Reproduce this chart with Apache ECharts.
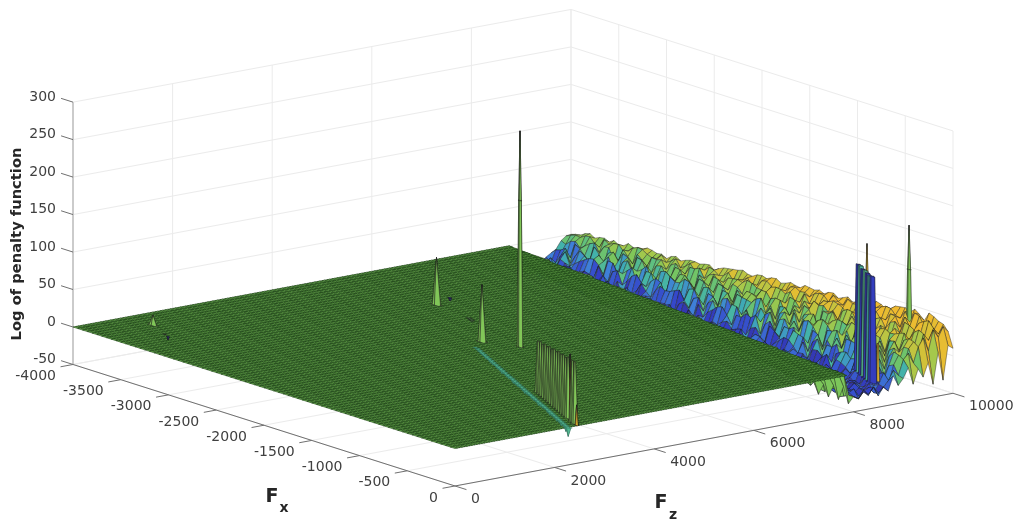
<!DOCTYPE html>
<html><head><meta charset="utf-8">
<style>html,body{margin:0;padding:0;background:#fff}#c{width:1020px;height:525px}</style>
<script src="https://cdn.jsdelivr.net/npm/echarts@6/dist/echarts.min.js"></script>
</head><body><div id="c"></div>
<script>
// ---- data ----
const fxTicks = [-4000,-3500,-3000,-2500,-2000,-1500,-1000,-500,0];
const fzTicks = [0,2000,4000,6000,8000,10000];
const zTicks  = [-50,0,50,100,150,200,250,300];
const fxStep = 50, fzStep = 50, roughFxStep = 50, roughFzStep = 100;
const flatEdgeFz = [8755, 7870];        // end of the flat sheet at Fx=-4000 and Fx=0
// rough region: one row per Fx (-4000 .. 0), each row ends at Fz=10000
const roughRows = [
[-22,-30,-26,-34,-28,-22,-30,-24,-20,-16,-6,-1,0],
[-26,-31,-24,-29,-33,-25,-27,-30,-14,-20,-9,2,2],
[-28,-24,-32,-27,-33,-26,-20,-28,-12,-24,-3,4,3],
[-31,-23,-29,-34,-24,-28,-33,-17,-8,-22,-1,3,7],
[-30,-26,-22,-35,-25,-30,-18,-9,-26,-2,-8,7,9],
[-27,-35,-25,-30,-28,-33,-21,-26,-15,-6,-3,8,5],
[-25,-33,-28,-24,-36,-22,-28,-21,-5,-13,2,1,8],
[-29,-24,-33,-27,-35,-20,-31,-16,-10,-19,5,-2,9],
[-32,-27,-30,-26,-21,-34,-27,-12,-16,3,-6,10,6],
[-30,-28,-34,-23,-27,-31,-24,-8,-20,-5,4,6,10],
[-28,-34,-25,-30,-24,-35,-20,-30,-7,-3,-17,5,9,6],
[-25,-33,-27,-36,-24,-30,-22,-29,-13,-9,1,-11,10,7],
[-24,-30,-36,-23,-29,-26,-33,-11,-24,-1,4,-9,3,12],
[-32,-26,-34,-29,-21,-33,-27,-24,-3,-16,-6,8,5,9],
[-33,-26,-29,-35,-22,-30,-18,-28,-4,-20,6,1,11,7],
[-28,-35,-23,-31,-36,-25,-29,-12,-18,-2,3,-7,14,11],
[-27,-31,-24,-28,-34,-20,-31,-9,-14,2,-12,8,13,14],
[-34,-27,-30,-25,-28,-37,-20,-26,-8,-12,7,2,9,13],
[-30,-24,-35,-26,-30,-23,-36,-19,-2,-8,5,-4,6,11],
[-29,-33,-26,-36,-24,-31,-28,-10,-22,-4,-9,10,7,12],
[-26,-33,-28,-22,-36,-27,-21,-30,-6,-22,3,-7,9,14,8],
[-35,-24,-31,-28,-33,-23,-34,-25,-15,-1,-13,4,11,6,13],
[-31,-25,-30,-34,-24,-29,-35,-13,-18,-1,-10,6,0,10,15],
[-27,-34,-29,-23,-30,-36,-26,-21,-9,-19,2,-4,8,15,11],
[-28,-36,-23,-30,-26,-33,-24,-27,-3,-15,4,-6,12,5,14],
[-32,-25,-35,-28,-34,-24,-29,-16,-6,-25,-2,10,4,9,16],
[-34,-27,-32,-25,-37,-22,-30,-8,-23,2,-5,9,2,15,16],
[-30,-36,-26,-31,-23,-33,-27,-12,-20,-3,6,-8,13,7,15],
[-29,-25,-35,-28,-31,-24,-36,-26,-11,-17,-2,7,-3,13,8,17],
[-36,-28,-32,-24,-35,-29,-25,-31,-8,-21,5,-1,-11,16,12,18],
[-33,-30,-24,-36,-27,-32,-22,-33,-5,-20,3,-8,10,4,18,13],
[-27,-34,-25,-30,-36,-23,-33,-20,-17,-3,-9,8,3,11,16,17],
[-26,-35,-29,-23,-33,-28,-37,-16,-25,-1,-12,6,-1,14,11,20],
[-33,-29,-36,-26,-31,-27,-35,-24,-10,-14,2,-6,14,6,13,21],
[-31,-27,-34,-30,-25,-36,-21,-31,-7,-18,4,-4,12,7,19,22],
[-28,-32,-24,-35,-30,-22,-34,-13,-23,-1,-7,10,5,15,10,23],
[-35,-28,-24,-33,-29,-26,-38,-24,-28,-10,-3,-16,8,2,16,13,25],
[-30,-36,-27,-25,-34,-31,-24,-33,-19,-5,-14,6,-3,12,17,15,22],
[-27,-33,-30,-25,-36,-23,-31,-34,-14,-22,-2,5,-9,10,15,20,21],
[-33,-26,-34,-30,-23,-35,-28,-26,-8,-27,1,-10,9,3,20,12,25],
[-30,-36,-26,-32,-28,-35,-24,-29,-6,-26,-11,7,1,-5,18,14,26],
[-25,-31,-37,-28,-34,-26,-32,-23,-15,-2,-18,5,12,0,14,22,24],
[-34,-25,-31,-37,-27,-30,-33,-20,-26,-3,-15,4,11,6,13,24,27],
[-32,-35,-27,-24,-33,-29,-36,-28,-11,-21,-6,2,8,16,9,19,28],
[-28,-32,-35,-24,-30,-36,-26,-31,-12,-4,-21,9,-2,16,21,12,24],
[-35,-26,-30,-33,-25,-34,-23,-30,-5,-24,-9,12,-1,7,23,17,26],
[-36,-29,-26,-33,-31,-25,-37,-21,-30,-8,-17,2,-6,12,7,22,19,29],
[-28,-33,-35,-27,-24,-31,-29,-36,-19,-3,-13,-7,6,15,2,18,26,27],
[-31,-35,-28,-24,-34,-30,-27,-32,-16,-26,-1,6,-10,14,9,23,28,26],
[-34,-25,-30,-36,-28,-33,-26,-22,-27,-11,4,-16,9,-1,19,11,24,31],
[-26,-33,-37,-30,-25,-35,-29,-23,-31,-5,-19,3,10,-3,17,13,25,30],
[-30,-36,-29,-24,-32,-27,-35,-31,-8,-18,-2,7,1,13,8,26,21,29],
[-34,-28,-31,-36,-27,-32,-24,-34,-13,-22,1,-8,11,5,20,15,27,31],
[-27,-32,-34,-28,-36,-25,-30,-26,-20,-6,-12,10,-4,17,12,18,30,28],
[-30,-37,-25,-33,-29,-35,-26,-31,-20,-27,-7,2,-12,8,14,24,18,29,32],
[-34,-28,-36,-30,-24,-33,-29,-35,-14,-24,-3,-10,5,11,-2,20,25,22,33],
[-35,-27,-32,-28,-36,-24,-33,-29,-15,-4,-23,6,0,13,-6,22,26,33,28],
[-31,-35,-27,-25,-32,-37,-23,-28,-22,-7,-16,9,2,-5,18,15,29,27,31],
[-28,-33,-36,-26,-31,-37,-27,-22,-30,-9,-18,3,10,-2,16,19,27,24,34],
[-36,-26,-33,-29,-35,-28,-31,-25,-12,-26,1,-8,13,6,21,9,24,34,29],
[-33,-29,-25,-35,-30,-26,-38,-24,-32,-11,-2,-20,7,12,4,23,15,30,32],
[-29,-34,-31,-37,-26,-30,-24,-36,-18,-5,-21,4,-3,16,11,27,19,31,35],
[-37,-31,-34,-27,-33,-29,-25,-35,-17,-28,-6,5,-9,15,9,26,21,35,30],
[-33,-27,-36,-25,-31,-34,-28,-30,-23,-9,-15,8,0,12,23,13,30,26,37],
[-29,-36,-30,-24,-35,-32,-27,-36,-21,-30,-10,1,-14,8,18,11,25,29,36,40],
[-35,-30,-26,-33,-28,-36,-24,-32,-15,-27,-4,-11,6,-7,16,21,10,32,35,38],
[-34,-27,-33,-37,-28,-31,-35,-25,-33,-13,-24,4,-5,14,6,24,17,33,38,34],
[-28,-37,-31,-27,-34,-25,-33,-29,-18,-9,-22,3,11,1,20,13,27,24,41,36],
[-31,-35,-26,-30,-36,-24,-29,-34,-20,-7,-27,2,10,-3,19,16,30,26,40,42],
[-33,-29,-35,-24,-30,-37,-26,-31,-24,-14,0,-16,7,17,-1,23,18,36,33,43],
[-36,-28,-32,-35,-27,-33,-30,-23,-31,-12,-3,-18,9,15,22,8,28,35,31,44],
[-27,-36,-28,-34,-32,-26,-35,-27,-12,-29,-6,5,-9,13,24,10,31,22,42,40],
[-30,-37,-27,-34,-31,-25,-36,-29,-21,-33,-8,-19,3,12,-4,20,25,18,38,30,46],
[-34,-31,-36,-28,-25,-33,-30,-35,-19,-11,-25,-2,9,-6,15,21,12,34,27,44,41],
[-35,-29,-33,-26,-38,-30,-28,-34,-17,-28,-5,6,-11,16,10,24,14,32,22,42,35],
[-29,-35,-26,-32,-37,-27,-34,-24,-28,-13,-2,-17,7,18,4,26,16,28,36,30,47],
[-27,-34,-36,-31,-25,-35,-32,-22,-30,-10,-23,2,12,5,20,9,28,18,40,24,44],
[-36,-28,-31,-35,-29,-33,-26,-30,-15,-24,-7,10,-4,14,24,11,33,19,43,29,40],
[-33,-30,-26,-37,-32,-28,-36,-26,-12,-27,-4,8,-8,14,22,6,30,20,35,26,38],
[-30,-33,-37,-27,-34,-25,-35,-28,-20,-8,-16,4,11,-3,17,28,9,36,25,38,30],
[-18,-6,-24,-10,-30,-14,-38,-30,-34,-26,-32,-22,-35,-24,-31,-12,-26,-18,-5,-28,-9,-21,-3,-33,8,-30,15,10]
];
// isolated peaks: [Fx, Fz, height, base height, colour height, half width, half width at the top]
const farPeaks = [
[-640,9500,130,22,26,30,0],[-408,9900,100,8,1,30,16],[-408,9900,159,100,1,16,0],
[-300,8680,126,-15,-33,45,25],[-250,8630,127,-15,-14,45,25],[-200,8580,125,-15,-34,45,25],[-150,8530,126,-15,-12,45,25],
[-100,8480,125,-15,-36,45,25],[-50,8430,124,-15,-16,45,25],[0,8380,126,-15,-34,45,25],[0,8490,35,-15,26,16,8]
];
const nearPeaks = [
[-3732,1093,13,0,1,38,0],[-3431,817,-4,0,-40,12,0],[-3500,880,-1,0,-2,14,0],
[-3145,5930,-4,0,-40,16,0],[-3230,5800,-2,0,-2,20,0],[-2604,5329,-2,0,-3,20,0],[-2650,5370,-2,0,-3,20,0],
[-3058,5493,63,0,1,42,0],[-2114,4596,76,0,1,40,0],
[-1863,4878,195,0,1,28,14],[-1863,4878,288,195,1,14,0],
[-850,3300,68,0,1,32,8],[-800,3250,70,0,1,32,8],[-750,3200,69,0,1,32,8],[-700,3150,72,0,1,32,8],[-650,3100,71,0,1,32,8],
[-600,3050,74,0,1,32,8],[-550,3000,73,0,1,32,8],[-500,2950,76,0,1,32,8],[-450,2900,75,0,1,32,8],[-400,2850,78,0,1,32,8],
[-350,2800,77,0,1,32,8],[-300,2750,79,0,1,32,8],[-250,2700,78,0,1,32,8],[-200,2650,81,0,1,32,8],[-150,2600,88,0,28,10,0],
[-100,2550,82,0,1,32,8],[-50,2500,83,0,1,32,8],[-15,2470,27,0,28,16,0]
];
// shallow diagonal groove, Fx from -2000 to 0 in steps of 50
const grooveZ = [-1,-2,-3,-3,-4,-3,-4,-4,-3,-4,-4,-5,-3,-4,-4,-3,-5,-4,-4,-3,-4,-5,-4,-3,-4,-4,-3,-5,-4,-4,-3,-4,-5,-4,-4,-5,-4,-6,-5,-8,-12];
const colorStops = [[-45,'#352a87'],[-32,'#3340c8'],[-24,'#3f7fd8'],[-17,'#3fb0b0'],[-9,'#5fbf80'],[0,'#7cc65a'],[10,'#a9c84a'],[18,'#d8c036'],[28,'#eebb30'],[60,'#f2b82c']];

// ---- view: fixed orthographic camera of the 3D box ----
function P(fx,fz,z){
  const a=(fx+4000)/4000, b=fz/10000;
  return [73+382*a+498*b, 327+121.5*a-92.7*b-0.7495*z];
}
function colorOf(z){
  if(z<=colorStops[0][0]) return colorStops[0][1];
  for(let i=1;i<colorStops.length;i++){
    if(z<=colorStops[i][0]){
      const t=(z-colorStops[i-1][0])/(colorStops[i][0]-colorStops[i-1][0]);
      return echarts.color.lerp(t,[colorStops[i-1][1],colorStops[i][1]]);
    }
  }
  return colorStops[colorStops.length-1][1];
}
function depth(c){let s=0;for(const v of c.v){const p=P(v[0],v[1],0);s+=p[1];}return s/c.v.length;}

// rough cells
function roughAt(i,fz){
  const row=roughRows[i]; if(!row) return 0;
  const k=row.length-1-Math.round((10000-fz)/roughFzStep);
  return k>=0?row[k]:0;
}
const backCells=[];
for(let i=0;i<roughRows.length-1;i++){
  const fx0=-4000+i*roughFxStep, fx1=fx0+roughFxStep;
  const n=Math.max(roughRows[i].length,roughRows[i+1].length);
  for(let k=0;k<n;k++){
    const fz0=10000-(k+1)*roughFzStep, fz1=fz0+roughFzStep;
    const z00=roughAt(i,fz0),z01=roughAt(i,fz1),z10=roughAt(i+1,fz0),z11=roughAt(i+1,fz1);
    backCells.push({v:[[fx0,fz0,z00],[fx1,fz0,z10],[fx1,fz1,z11],[fx0,fz1,z01]],c:z00});
  }
}
function addPeak(list,p){
  const fx=p[0],fz=p[1],h=p[2],b=p[3],col=p[4],d=p[5],t=p[6];
  [[-1,1],[-1,-1],[1,1],[1,-1]].forEach(s=>{
    const v=t?[[fx+s[0]*t,fz,h],[fx,fz+s[1]*t,h],[fx,fz+s[1]*d,b],[fx+s[0]*d,fz+s[1]*d,b],[fx+s[0]*d,fz,b]]
             :[[fx,fz,h],[fx,fz+s[1]*d,b],[fx+s[0]*d,fz+s[1]*d,b],[fx+s[0]*d,fz,b]];
    list.push({v:v,c:col});
  });
}
farPeaks.forEach(p=>addPeak(backCells,p));
backCells.sort((a,b)=>depth(a)-depth(b));

// flat sheet
const flatCells=[];
function edgeFz(fx){return flatEdgeFz[0]+(flatEdgeFz[1]-flatEdgeFz[0])*(fx+4000)/4000;}
for(let fx=-4000;fx<0;fx+=fxStep){
  for(let fz=0;fz<9000;fz+=fzStep){
    const e0=edgeFz(fx),e1=edgeFz(fx+fxStep);
    if(fz>=e0) continue;
    flatCells.push({v:[[fx,fz,0],[fx+fxStep,Math.min(fz,e1),0],[fx+fxStep,Math.min(fz+fzStep,e1),0],[fx,Math.min(fz+fzStep,e0),0]],c:0});
  }
}
flatCells.sort((a,b)=>depth(a)-depth(b));

// peaks standing on the sheet
const frontCells=[];
nearPeaks.forEach(p=>addPeak(frontCells,p));
frontCells.sort((a,b)=>depth(a)-depth(b));
const grooveCells=[];
grooveZ.forEach((z,i)=>{const fx=-2000+i*50; addPeak(grooveCells,[fx,2273-fx,z,0,-12,28,0]);});
grooveCells.sort((a,b)=>depth(a)-depth(b));

// ---- box lines ----
const gridSegs=[];
const zMin=-50,zMax=300;
fzTicks.forEach(t=>{ gridSegs.push([[-4000,t,zMin],[-4000,t,zMax]]); gridSegs.push([[-4000,t,zMin],[0,t,zMin]]); });
fxTicks.forEach(t=>{ gridSegs.push([[t,10000,zMin],[t,10000,zMax]]); gridSegs.push([[t,0,zMin],[t,10000,zMin]]); });
zTicks.forEach(t=>{ gridSegs.push([[-4000,0,t],[-4000,10000,t]]); gridSegs.push([[-4000,10000,t],[0,10000,t]]); });
const axisSegs=[
 [[-4000,0,zMin],[0,0,zMin]],[[0,0,zMin],[0,10000,zMin]]
];
fxTicks.forEach(t=>axisSegs.push([[t,0,zMin],[t,-250,zMin]]));
fzTicks.forEach(t=>axisSegs.push([[0,t,zMin],[120,t,zMin]]));
zTicks.forEach(t=>axisSegs.push([[-4000,0,t],[-4125,0,t]]));

const labels=[];
zTicks.forEach(t=>{const p=P(-4000,0,t);labels.push({t:String(t),x:p[0]-17,y:p[1]-5,a:'right'});});
fxTicks.forEach(t=>{const p=P(t,0,zMin);labels.push({t:String(t),x:p[0]-17,y:p[1]+12,a:'right'});});
fzTicks.forEach(t=>{const p=P(0,t,zMin);labels.push({t:String(t),x:p[0]+16,y:p[1]+13.5,a:'left'});});

function polySeries(cells,lw,stroke){
  return {type:'custom',coordinateSystem:'cartesian2d',silent:true,animation:false,progressive:0,clip:false,
    data:cells.map((c,i)=>[i,0]),
    renderItem:function(params,api){
      const c=cells[params.dataIndex];
      return {type:'polygon',silent:true,
        shape:{points:c.v.map(v=>{const p=P(v[0],v[1],v[2]);return api.coord(p);})},
        style:{fill:colorOf(c.c),stroke:stroke,lineWidth:lw}};
    }};
}
function lineSeries(segs,color,lw){
  return {type:'custom',coordinateSystem:'cartesian2d',silent:true,animation:false,progressive:0,clip:false,
    data:segs.map((s,i)=>[i,0]),
    renderItem:function(params,api){
      const s=segs[params.dataIndex],a=api.coord(P.apply(null,s[0])),b=api.coord(P.apply(null,s[1]));
      return {type:'line',silent:true,shape:{x1:a[0],y1:a[1],x2:b[0],y2:b[1]},style:{stroke:color,lineWidth:lw}};
    }};
}
const FONT='"DejaVu Sans"';
const option={
  animation:false,backgroundColor:'#fff',
  grid:{left:0,right:0,top:0,bottom:0},
  xAxis:{type:'value',min:0,max:1020,show:false},
  yAxis:{type:'value',min:0,max:525,inverse:true,show:false},
  series:[
    lineSeries(gridSegs,'#ebebeb',1),
    lineSeries([[[-4000,0,zMin],[-4000,0,zMax]]],'#bcbcbc',1.5),
    lineSeries(axisSegs,'#707070',1),
    polySeries(backCells,0.42,'#1c1c1c'),
    polySeries(flatCells,0.6,'#173a12'),
    polySeries(grooveCells,0.3,'#2a5a4a'),
    polySeries(frontCells,0.5,'#1c1c1c'),
    {type:'custom',coordinateSystem:'cartesian2d',silent:true,animation:false,clip:false,
     data:labels.map((l,i)=>[i,0]),
     renderItem:function(params,api){
       const l=labels[params.dataIndex],p=api.coord([l.x,l.y]);
       return {type:'text',silent:true,style:{text:l.t,x:p[0],y:p[1],textAlign:l.a,textVerticalAlign:'middle',font:'14px '+FONT,fill:'#404040'}};
     }},
    {type:'custom',coordinateSystem:'cartesian2d',silent:true,animation:false,clip:false,
     data:[[0,0]],
     renderItem:function(params,api){
       const a=api.coord([17,244]),f=api.coord([272,497]),x=api.coord([284,508]),g=api.coord([661,503]),z=api.coord([673,515]);
       const st=(t,p,size)=>({type:'text',silent:true,style:{text:t,x:p[0],y:p[1],textAlign:'center',textVerticalAlign:'middle',font:'bold '+size+'px '+FONT,fill:'#262626'}});
       return {type:'group',silent:true,children:[
         {type:'text',silent:true,x:a[0],y:a[1],rotation:Math.PI/2,style:{text:'Log of penalty function',x:0,y:0,textAlign:'center',textVerticalAlign:'middle',font:'bold 14.7px '+FONT,fill:'#262626'}},
         st('F',f,19),st('x',x,14),st('F',g,19),st('z',z,14)
       ]};
     }}
  ]
};
const chart=echarts.init(document.getElementById('c'),null,{renderer:'canvas'});
chart.setOption(option);
</script></body></html>
